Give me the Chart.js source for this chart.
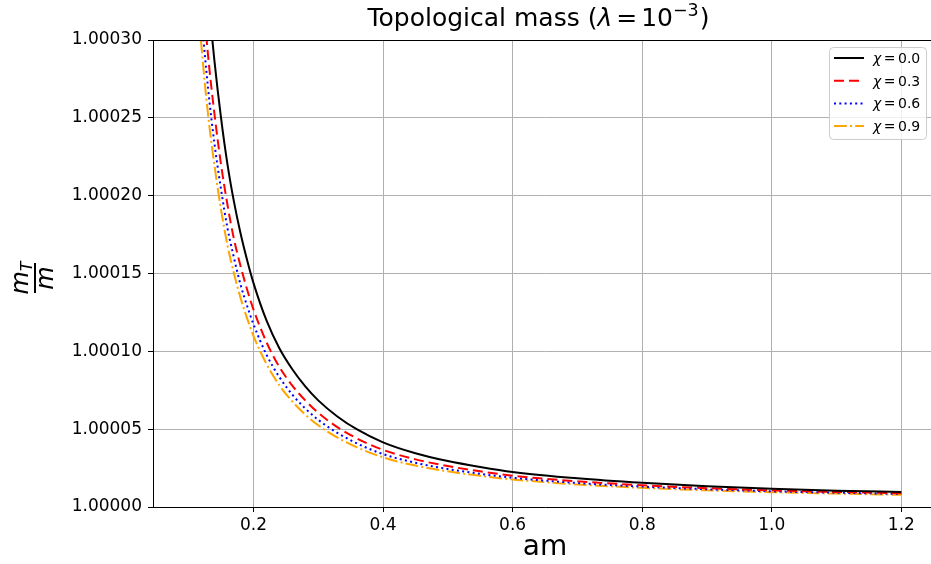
<!DOCTYPE html>
<html>
<head>
<meta charset="utf-8">
<title>Topological mass</title>
<script src="https://cdn.jsdelivr.net/npm/chart.js@4.4.1/dist/chart.umd.min.js"></script>
<style>
  html, body { margin: 0; padding: 0; background: #fff; overflow: hidden; }
  #wrap { width: 940px; height: 564px; }
</style>
</head>
<body>
<div id="wrap"><canvas id="mass" width="940" height="564"></canvas></div>
<script>
const amValues = [0.10, 0.11, 0.12, 0.13, 0.14, 0.15, 0.16, 0.17, 0.18, 0.19,
                  0.20, 0.22, 0.24, 0.26, 0.28, 0.30, 0.33, 0.36, 0.40,
                  0.45, 0.50, 0.55, 0.60, 0.70, 0.80, 0.90, 1.00, 1.10, 1.20];

// m_T / m for each chi
const chi00 = [1.000552, 1.000458, 1.000386, 1.000330, 1.000286, 1.000250, 1.000220, 1.000196, 1.000176, 1.000159,
               1.000144, 1.000120, 1.000102, 1.0000885, 1.0000775, 1.0000685, 1.000058, 1.0000498, 1.0000415,
               1.0000345, 1.0000295, 1.0000257, 1.0000225, 1.0000184, 1.0000155, 1.0000133, 1.0000117, 1.0000105, 1.0000096];
const chi03 = [1.000486, 1.000403, 1.000340, 1.000290, 1.000252, 1.000220, 1.000194, 1.000172, 1.000155, 1.000140,
               1.000127, 1.000106, 1.000090, 1.000078, 1.0000685, 1.0000605, 1.0000512, 1.000044, 1.0000367,
               1.0000306, 1.0000263, 1.0000229, 1.0000201, 1.0000165, 1.000014, 1.0000121, 1.0000107, 1.0000097, 1.0000089];
const chi06 = [1.000450, 1.000373, 1.000315, 1.000269, 1.000233, 1.000204, 1.000179, 1.000160, 1.000143, 1.0001295,
               1.0001175, 1.000098, 1.0000835, 1.0000722, 1.0000633, 1.000056, 1.0000475, 1.0000408, 1.000034,
               1.0000284, 1.0000244, 1.0000213, 1.0000188, 1.0000154, 1.0000131, 1.0000114, 1.0000101, 1.0000092, 1.0000084];
const chi09 = [1.000422, 1.000350, 1.000295, 1.000252, 1.000219, 1.000191, 1.000168, 1.000150, 1.0001345, 1.0001215,
               1.000110, 1.000092, 1.0000782, 1.0000678, 1.0000594, 1.0000525, 1.0000445, 1.0000383, 1.0000319,
               1.0000266, 1.0000229, 1.000020, 1.0000177, 1.0000145, 1.0000123, 1.0000107, 1.0000095, 1.0000086, 1.0000078];

const chiLabels = ["0.0", "0.3", "0.6", "0.9"];
const xTicks = [0.2, 0.4, 0.6, 0.8, 1.0, 1.2];
const yTicks = [1.00000, 1.00005, 1.00010, 1.00015, 1.00020, 1.00025, 1.00030];

const FONT = "'DejaVu Sans', sans-serif";
const colors = ["#000000", "#ff0000", "#0000ff", "#ffa500"];
const dashes = [[], [10, 5], [2, 3.3], [12.8, 3.2, 2, 3.2]];

function toPoints(values) {
    return amValues.map((x, i) => ({ x: x, y: values[i] }));
}

// text pieces drawn one after another, each with its own font and offset
function drawRuns(ctx, runs, x, y) {
    runs.forEach(r => {
        ctx.font = r.font;
        ctx.fillText(r.text, x, y + (r.dy || 0));
        x += ctx.measureText(r.text).width + (r.gap || 0);
    });
}

function runsWidth(ctx, runs) {
    let w = 0;
    runs.forEach(r => {
        ctx.font = r.font;
        w += ctx.measureText(r.text).width + (r.gap || 0);
    });
    return w;
}

// title, axis labels, legend and top spine
const decorations = {
    id: "decorations",
    afterDraw(chart) {
        const ctx = chart.ctx;
        const area = chart.chartArea;
        ctx.save();

        // top spine
        ctx.strokeStyle = "#000";
        ctx.lineWidth = 1;
        ctx.beginPath();
        ctx.moveTo(area.left, area.top + 0.5);
        ctx.lineTo(area.right, area.top + 0.5);
        ctx.stroke();

        ctx.fillStyle = "#000";
        ctx.textBaseline = "alphabetic";
        ctx.textAlign = "left";

        // title
        const title = [
            { text: "Topological mass (", font: `25px ${FONT}` },
            { text: "\u03bb", font: `italic 25px ${FONT}`, gap: 4 },
            { text: "=", font: `25px ${FONT}`, gap: 4 },
            { text: "10", font: `25px ${FONT}` },
            { text: "\u22123", font: `17.5px ${FONT}`, dy: -10, gap: 1 },
            { text: ")", font: `25px ${FONT}` }
        ];
        const tw = runsWidth(ctx, title);
        drawRuns(ctx, title, 538.5 - tw / 2, 26);

        // x label
        ctx.font = `28px ${FONT}`;
        ctx.textAlign = "center";
        ctx.fillText("am", (area.left + area.right) / 2, 555);

        // y label: fraction m_T / m, rotated
        ctx.save();
        ctx.translate(35, 278);
        ctx.rotate(-Math.PI / 2);
        ctx.lineWidth = 2;
        ctx.beginPath();
        ctx.moveTo(-15, 0);
        ctx.lineTo(15, 0);
        ctx.stroke();
        ctx.textAlign = "left";
        ctx.font = `italic 24px ${FONT}`;
        const mw = ctx.measureText("m").width;
        ctx.font = `italic 16px ${FONT}`;
        const tW = ctx.measureText("T").width;
        const nx = -(mw + tW) / 2;
        ctx.font = `italic 24px ${FONT}`;
        ctx.fillText("m", nx, -7);
        ctx.font = `italic 16px ${FONT}`;
        ctx.fillText("T", nx + mw, -3);
        ctx.font = `italic 24px ${FONT}`;
        ctx.textAlign = "center";
        ctx.fillText("m", 0, 18);
        ctx.restore();

        // legend box
        ctx.beginPath();
        ctx.roundRect(829.5, 47.5, 97, 92, 4);
        ctx.fillStyle = "rgba(255,255,255,0.8)";
        ctx.fill();
        ctx.strokeStyle = "#cccccc";
        ctx.lineWidth = 1;
        ctx.stroke();

        ctx.textAlign = "left";
        chiLabels.forEach((lab, i) => {
            const y = 58 + i * 22.7;
            ctx.strokeStyle = colors[i];
            ctx.lineWidth = 2;
            ctx.setLineDash(dashes[i]);
            ctx.beginPath();
            ctx.moveTo(834, y);
            ctx.lineTo(864, y);
            ctx.stroke();
            ctx.setLineDash([]);
            ctx.fillStyle = "#000";
            drawRuns(ctx, [
                { text: "\u03c7", font: `italic 14px ${FONT}`, gap: 2.5 },
                { text: "=", font: `14px ${FONT}`, gap: 2.5 },
                { text: lab, font: `14px ${FONT}` }
            ], 873, y + 5);
        });

        ctx.restore();
    }
};

const datasets = [chi00, chi03, chi06, chi09].map((vals, i) => ({
    label: "\u03c7 = " + chiLabels[i],
    data: toPoints(vals),
    borderColor: colors[i],
    borderWidth: 2,
    borderDash: dashes[i],
    pointRadius: 0,
    fill: false,
    cubicInterpolationMode: "monotone",
    clip: 0
}));

const axisCommon = {
    type: "linear",
    grid: { color: "#b0b0b0", lineWidth: 1, tickColor: "#000", tickLength: 5 },
    border: { color: "#000", width: 1 }
};

new Chart(document.getElementById("mass"), {
    type: "line",
    data: { datasets: datasets },
    options: {
        responsive: false,
        animation: false,
        layout: { padding: { top: 40, right: 3, left: 0, bottom: 0 } },
        plugins: {
            legend: { display: false },
            title: { display: false },
            tooltip: { enabled: false }
        },
        scales: {
            x: Object.assign({}, axisCommon, {
                min: 0.045,
                max: 1.255,
                afterBuildTicks: scale => { scale.ticks = xTicks.map(v => ({ value: v })); },
                afterFit: scale => { scale.height = 57; },
                ticks: {
                    autoSkip: false,
                    maxRotation: 0,
                    padding: 3,
                    color: "#000",
                    font: { family: FONT, size: 17 },
                    callback: v => Number(v).toFixed(1)
                }
            }),
            y: Object.assign({}, axisCommon, {
                min: 1.0,
                max: 1.0003,
                afterBuildTicks: scale => { scale.ticks = yTicks.map(v => ({ value: v })); },
                afterFit: scale => { scale.width = 153; },
                ticks: {
                    autoSkip: false,
                    padding: 6,
                    color: "#000",
                    font: { family: FONT, size: 17 },
                    callback: v => Number(v).toFixed(5)
                }
            })
        }
    },
    plugins: [decorations]
});
</script>
</body>
</html>
